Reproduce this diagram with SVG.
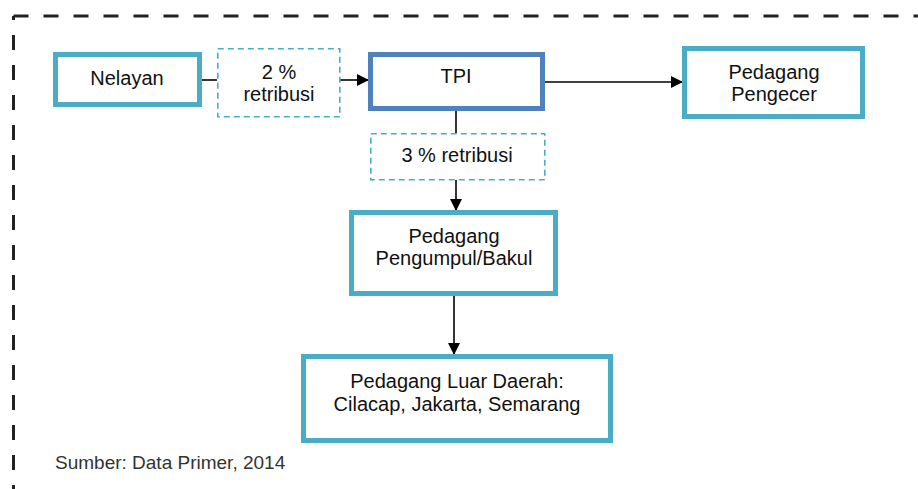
<svg xmlns="http://www.w3.org/2000/svg" width="918" height="489" viewBox="0 0 918 489">
<style>
.node{fill:#fff;stroke:#4BACC6;stroke-width:5}
.tpi{fill:#fff;stroke:#4F81BD;stroke-width:5}
.ret{fill:#fff;stroke:#4BACC6;stroke-width:1.6;stroke-dasharray:6 4}
.border{fill:none;stroke:#222;stroke-width:3;stroke-dasharray:15 15}
.conn{fill:none;stroke:#000;stroke-width:1.6}
text{font-family:"Liberation Sans",Arial,sans-serif;font-size:20px;fill:#111;text-anchor:middle}
.src{font-size:19px;fill:#333;text-anchor:start}
</style>
<defs>
<marker id="arr" markerWidth="12" markerHeight="12" refX="11" refY="6" orient="auto" markerUnits="userSpaceOnUse">
<path d="M0,0 L12,6 L0,12 Z" fill="#000"/>
</marker>
</defs>
<path class="border" d="M13.5 16 H918"/>
<path class="border" d="M13.5 16 V489" stroke-dashoffset="11"/>
<g id="connectors">
<path class="conn" d="M202 80 H217"/>
<path class="conn" d="M340 80 H368" marker-end="url(#arr)"/>
<path class="conn" d="M545 82 H682" marker-end="url(#arr)"/>
<path class="conn" d="M456 111 V133"/>
<path class="conn" d="M456 180 V210" marker-end="url(#arr)"/>
<path class="conn" d="M454 296 V354" marker-end="url(#arr)"/>
</g>
<g id="nelayan">
<rect class="node" x="55.5" y="54.5" width="144" height="50"/>
<text x="127" y="85">Nelayan</text>
</g>
<g id="retribusi2">
<rect class="ret" x="217.8" y="48.8" width="122" height="68"/>
<text x="279" y="79">2 %</text>
<text x="279" y="101">retribusi</text>
</g>
<g id="tpi">
<rect class="tpi" x="370.5" y="54.5" width="172" height="54"/>
<text x="456" y="83">TPI</text>
</g>
<g id="pengecer">
<rect class="node" x="684.5" y="48.5" width="178" height="68"/>
<text x="774" y="79">Pedagang</text>
<text x="774" y="101">Pengecer</text>
</g>
<g id="retribusi3">
<rect class="ret" x="370.8" y="133.8" width="174" height="46"/>
<text x="457" y="162">3 % retribusi</text>
</g>
<g id="pengumpul">
<rect class="node" x="351.5" y="212.5" width="204" height="81"/>
<text x="454" y="243">Pedagang</text>
<text x="454" y="265">Pengumpul/Bakul</text>
</g>
<g id="luardaerah">
<rect class="node" x="303.5" y="356.5" width="307" height="84"/>
<text x="457" y="388">Pedagang Luar Daerah:</text>
<text x="457" y="411">Cilacap, Jakarta, Semarang</text>
</g>
<text class="src" x="55" y="469">Sumber: Data Primer, 2014</text>
</svg>
